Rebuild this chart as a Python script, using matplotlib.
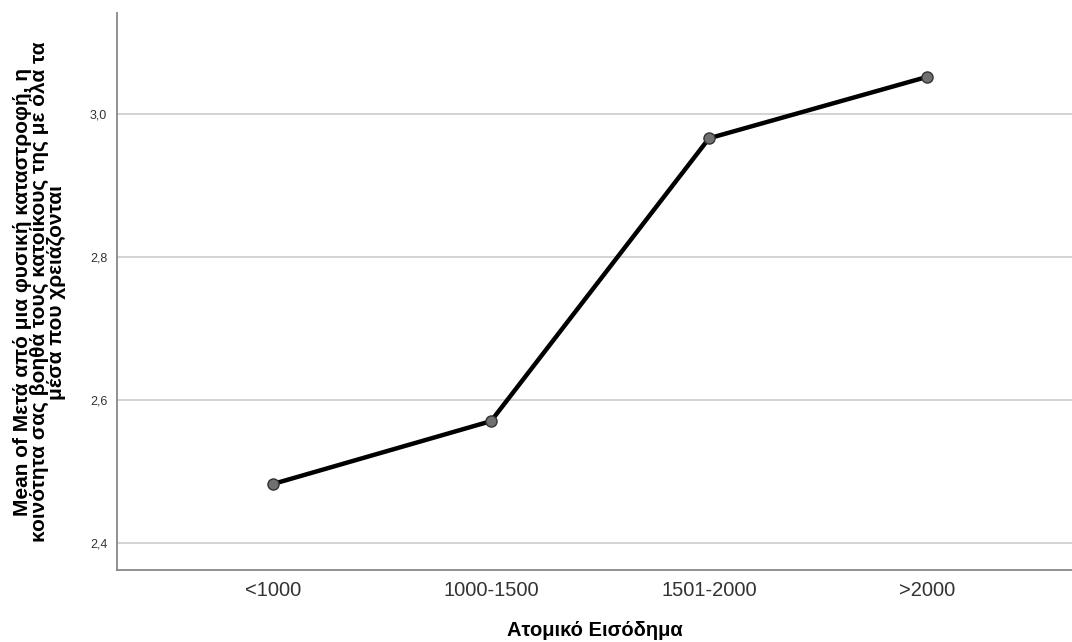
import matplotlib.pyplot as plt
import numpy as np

plt.rcParams['font.family'] = ['Liberation Sans', 'DejaVu Sans']

categories = ["<1000", "1000-1500", "1501-2000", ">2000"]
means = [2.482, 2.570, 2.966, 3.052]
yticks = [2.4, 2.6, 2.8, 3.0]
ytick_labels = ["2,4", "2,6", "2,8", "3,0"]

fig = plt.figure(figsize=(10.72, 6.42), dpi=100)
ax = fig.add_axes([0.1091, 0.1121, 0.8909, 0.8676])

x = np.arange(len(categories))
ax.plot(x, means, color="black", lw=3.2, marker="o", markersize=8,
        markerfacecolor="#707070", markeredgecolor="#333333",
        markeredgewidth=1, zorder=3)

ax.set_xlim(-0.716, 3.665)
ax.set_ylim(2.3615, 3.1414)
ax.set_xticks(x)
ax.set_xticklabels(categories, fontsize=14.5, color="#333333")
ax.set_yticks(yticks)
ax.set_yticklabels(ytick_labels, fontsize=9, color="#333333")
ax.tick_params(axis="x", length=0, pad=8)
ax.tick_params(axis="y", length=0, pad=7)
ax.grid(axis="y", color="#cccccc", lw=1.2)
ax.set_axisbelow(True)

for s in ["top", "right"]:
    ax.spines[s].set_visible(False)
for s in ["left", "bottom"]:
    ax.spines[s].set_color("#888888")
    ax.spines[s].set_linewidth(1.3)

fig.text(0.5546, 0.033, "Ατομικό Εισόδημα", ha="center", va="top",
         fontsize=14.5, fontweight="bold")
fig.text(0.037, 0.545,
         "Mean of Μετά από μια φυσική καταστροφή, η\n"
         "κοινότητα σας βοηθά τους κατοίκους της με όλα τα\n"
         "μέσα που χρειάζονται",
         rotation=90, ha="center", va="center", fontsize=15,
         fontweight="bold", linespacing=0.88, multialignment="center")

fig.savefig("out.png", dpi=100)
